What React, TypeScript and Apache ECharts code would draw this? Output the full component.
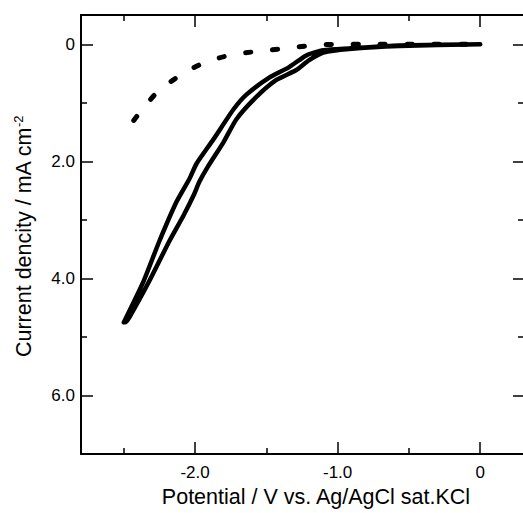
import React, { useEffect, useRef } from "react";
import * as echarts from "echarts";

// Solid curve: cathodic scan (outer branch) from 0 V to -2.5 V
const scanOutX = [0.0, -0.57, -0.92, -1.1, -1.22, -1.34, -1.48, -1.64, -1.73, -1.87, -1.99, -2.04, -2.13, -2.25, -2.36, -2.5];
const scanOutY = [0.0, 0.02, 0.07, 0.1, 0.19, 0.39, 0.57, 0.86, 1.11, 1.62, 2.04, 2.3, 2.69, 3.36, 4.04, 4.75];
// Solid curve: return scan (inner branch) from -2.5 V back to 0 V
const scanBackX = [-2.49, -2.46, -2.32, -2.18, -2.08, -2.01, -1.97, -1.91, -1.8, -1.71, -1.57, -1.43, -1.29, -1.2, -1.1, -0.92, -0.57, 0.0];
const scanBackY = [4.75, 4.66, 4.04, 3.36, 2.92, 2.58, 2.35, 2.09, 1.67, 1.28, 0.9, 0.61, 0.44, 0.27, 0.14, 0.08, 0.03, 0.0];
// Dotted curve
const dotX = [-2.43, -2.27, -2.11, -1.94, -1.76, -1.56, -1.36, -1.18, -0.99, -0.8, -0.4, 0.0];
const dotY = [1.3, 0.83, 0.54, 0.32, 0.19, 0.12, 0.07, 0.02, 0.0, 0.0, 0.0, 0.0];

// Ticks
const xMajor = [-2, -1, 0];
const xMinor = [-2.5, -1.5, -0.5];
const yMajor = [0, 2, 4, 6];
const yMinor = [1, 3, 5];

const X_MIN = -2.8;
const X_MAX = 0.3;
const Y_MIN = -0.5;
const Y_MAX = 7;

const FONT = "'Liberation Sans', Arial, Helvetica, sans-serif";

const fmt = (v: number) => (Math.abs(v) < 1e-9 ? "0" : v.toFixed(1));

export default function App() {
  const ref = useRef<HTMLDivElement>(null);
  useEffect(() => {
    document.body.style.margin = "0";
    if (!ref.current) return;
    const chart = echarts.init(ref.current, undefined, { renderer: "svg" });

    const solid: number[][] = [];
    scanOutX.forEach((x, i) => solid.push([x, scanOutY[i]]));
    scanBackX.forEach((x, i) => solid.push([x, scanBackY[i]]));
    const dotted = dotX.map((x, i) => [x, dotY[i]]);

    const line = { show: true, onZero: false, lineStyle: { color: "#000", width: 2 } };
    const noLine = { show: false, onZero: false };
    const mkX = (pos: string, ticks: number[], len: number, showLine: boolean, labels: boolean, extra: any = {}) => ({
      type: "value",
      position: pos,
      min: X_MIN,
      max: X_MAX,
      axisLine: showLine ? line : noLine,
      axisTick: { show: true, inside: true, length: len, customValues: ticks, lineStyle: { color: "#000", width: 1.5 } },
      axisLabel: labels
        ? { show: true, customValues: ticks, formatter: fmt, color: "#000", fontSize: 17, fontFamily: FONT, margin: 10 }
        : { show: false },
      splitLine: { show: false },
      ...extra,
    });
    const mkY = (pos: string, ticks: number[], len: number, showLine: boolean, labels: boolean, extra: any = {}) => ({
      type: "value",
      position: pos,
      min: Y_MIN,
      max: Y_MAX,
      inverse: true,
      axisLine: showLine ? line : noLine,
      axisTick: { show: true, inside: true, length: len, customValues: ticks, lineStyle: { color: "#000", width: 1.5 } },
      axisLabel: labels
        ? { show: true, customValues: ticks, formatter: fmt, color: "#000", fontSize: 17, fontFamily: FONT, margin: 6 }
        : { show: false },
      splitLine: { show: false },
      ...extra,
    });

    chart.setOption({
      animation: false,
      backgroundColor: "#fff",
      grid: { left: 81, right: 0, top: 15, bottom: 54, containLabel: false },
      xAxis: [
        mkX("bottom", xMajor, 12, true, true, {
          name: "Potential / V vs. Ag/AgCl sat.KCl",
          nameLocation: "middle",
          nameGap: 30,
          nameTextStyle: { color: "#000", fontSize: 21.5, fontFamily: FONT, padding: [0, 0, 0, 28] },
        }),
        mkX("bottom", xMinor, 6, false, false),
        mkX("top", xMajor, 12, true, false),
        mkX("top", xMinor, 6, false, false),
      ],
      yAxis: [
        mkY("left", yMajor, 12, true, true, {
          name: "{a|Current dencity / mA cm}{sup|-2}",
          nameLocation: "middle",
          nameGap: 46,
          nameTextStyle: {
            color: "#000",
            fontSize: 21.5,
            fontFamily: FONT,
            padding: [0, 4, 0, 0],
            rich: {
              a: { fontSize: 21.5, color: "#000", fontFamily: FONT },
              sup: { fontSize: 13, verticalAlign: "top", color: "#000", fontFamily: FONT, padding: [0, 0, 10, 0] },
            },
          },
        }),
        mkY("left", yMinor, 6, false, false),
        mkY("right", yMajor, 10, false, false),
        mkY("right", yMinor, 5, false, false),
      ],
      series: [
        {
          type: "line",
          xAxisIndex: 0,
          yAxisIndex: 0,
          data: solid,
          showSymbol: false,
          smooth: 0.2,
          lineStyle: { color: "#000", width: 4.5, cap: "round", join: "round" },
          z: 3,
        },
        {
          type: "line",
          xAxisIndex: 0,
          yAxisIndex: 0,
          data: dotted,
          showSymbol: false,
          smooth: 0.3,
          lineStyle: { color: "#000", width: 5, type: [5, 22], cap: "round" },
          z: 2,
        },
      ],
    });
    return () => chart.dispose();
  }, []);
  return <div ref={ref} style={{ width: 523, height: 513, position: "absolute", left: 0, top: 0 }} />;
}
